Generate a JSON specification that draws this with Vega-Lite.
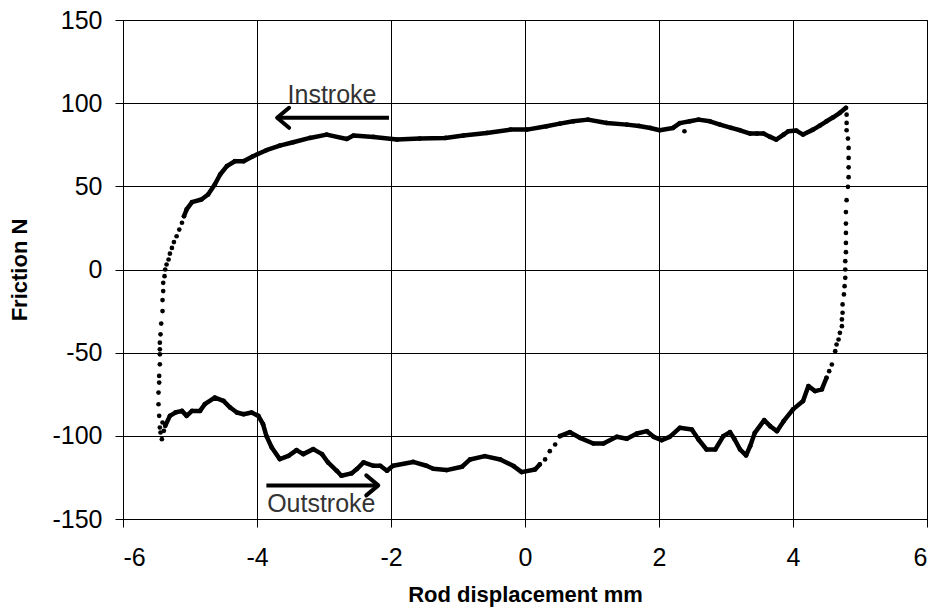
{
  "$schema": "https://vega.github.io/schema/vega-lite/v6.json",
  "width": 804,
  "height": 499,
  "autosize": {"type": "none"},
  "padding": {"left": 123, "top": 20, "right": 15, "bottom": 96},
  "background": "white",
  "config": {
    "view": {"stroke": "black", "strokeWidth": 1},
    "font": "Liberation Sans",
    "axis": {
      "domainColor": "black",
      "domainWidth": 1,
      "tickColor": "black",
      "tickWidth": 1,
      "tickSize": 8,
      "gridColor": "black",
      "gridWidth": 1,
      "gridOpacity": 1,
      "labelFont": "Liberation Sans",
      "labelFontSize": 25,
      "labelColor": "black",
      "titleFont": "Liberation Sans",
      "titleFontSize": 22,
      "titleFontWeight": "bold",
      "titleColor": "black"
    }
  },
  "datasets": {
    "loop": [
      {"i": 1, "x": 4.79, "y": 97.2, "s": "in"},
      {"i": 2, "x": 4.70, "y": 94.2, "s": "in"},
      {"i": 3, "x": 4.60, "y": 91.5, "s": "in"},
      {"i": 4, "x": 4.50, "y": 89.1, "s": "in"},
      {"i": 5, "x": 4.40, "y": 86.5, "s": "in"},
      {"i": 6, "x": 4.30, "y": 84.1, "s": "in"},
      {"i": 7, "x": 4.15, "y": 81.1, "s": "in"},
      {"i": 8, "x": 4.05, "y": 83.5, "s": "in"},
      {"i": 9, "x": 3.93, "y": 83.1, "s": "in"},
      {"i": 10, "x": 3.86, "y": 81.1, "s": "in"},
      {"i": 11, "x": 3.75, "y": 78.1, "s": "in"},
      {"i": 12, "x": 3.66, "y": 79.7, "s": "in"},
      {"i": 13, "x": 3.56, "y": 81.7, "s": "in"},
      {"i": 14, "x": 3.46, "y": 81.7, "s": "in"},
      {"i": 15, "x": 3.36, "y": 81.7, "s": "in"},
      {"i": 16, "x": 3.21, "y": 83.7, "s": "in"},
      {"i": 17, "x": 3.08, "y": 85.1, "s": "in"},
      {"i": 18, "x": 2.91, "y": 87.1, "s": "in"},
      {"i": 19, "x": 2.76, "y": 89.1, "s": "in"},
      {"i": 20, "x": 2.59, "y": 90.1, "s": "in"},
      {"i": 21, "x": 2.46, "y": 89.1, "s": "in"},
      {"i": 22, "x": 2.31, "y": 88.0, "s": "in"},
      {"i": 23, "x": 2.21, "y": 85.1, "s": "in"},
      {"i": 24, "x": 2.01, "y": 83.7, "s": "in"},
      {"i": 25, "x": 1.87, "y": 85.1, "s": "in"},
      {"i": 26, "x": 1.70, "y": 86.3, "s": "in"},
      {"i": 27, "x": 1.52, "y": 87.1, "s": "in"},
      {"i": 28, "x": 1.22, "y": 88.1, "s": "in"},
      {"i": 29, "x": 0.94, "y": 90.1, "s": "in"},
      {"i": 30, "x": 0.72, "y": 89.1, "s": "in"},
      {"i": 31, "x": 0.52, "y": 87.7, "s": "in"},
      {"i": 32, "x": 0.32, "y": 86.1, "s": "in"},
      {"i": 33, "x": 0.03, "y": 84.1, "s": "in"},
      {"i": 34, "x": -0.22, "y": 84.1, "s": "in"},
      {"i": 35, "x": -0.57, "y": 82.1, "s": "in"},
      {"i": 36, "x": -0.92, "y": 80.5, "s": "in"},
      {"i": 37, "x": -1.19, "y": 79.1, "s": "in"},
      {"i": 38, "x": -1.57, "y": 78.7, "s": "in"},
      {"i": 39, "x": -1.91, "y": 78.1, "s": "in"},
      {"i": 40, "x": -2.26, "y": 79.7, "s": "in"},
      {"i": 41, "x": -2.56, "y": 80.5, "s": "in"},
      {"i": 42, "x": -2.66, "y": 78.5, "s": "in"},
      {"i": 43, "x": -2.96, "y": 81.1, "s": "in"},
      {"i": 44, "x": -3.21, "y": 79.1, "s": "in"},
      {"i": 45, "x": -3.46, "y": 76.5, "s": "in"},
      {"i": 46, "x": -3.66, "y": 74.5, "s": "in"},
      {"i": 47, "x": -3.86, "y": 71.7, "s": "in"},
      {"i": 48, "x": -4.06, "y": 68.1, "s": "in"},
      {"i": 49, "x": -4.20, "y": 65.1, "s": "in"},
      {"i": 50, "x": -4.33, "y": 65.1, "s": "in"},
      {"i": 51, "x": -4.45, "y": 62.1, "s": "in"},
      {"i": 52, "x": -4.55, "y": 57.1, "s": "in"},
      {"i": 53, "x": -4.63, "y": 51.1, "s": "in"},
      {"i": 54, "x": -4.73, "y": 45.1, "s": "in"},
      {"i": 55, "x": -4.83, "y": 42.1, "s": "in"},
      {"i": 56, "x": -4.97, "y": 40.5, "s": "in"},
      {"i": 57, "x": -5.05, "y": 36.1, "s": "in"},
      {"i": 58, "x": -5.09, "y": 32.0, "s": "in"},
      {"i": 59, "x": 2.38, "y": 83.1, "s": "dot"},
      {"i": 60, "x": -5.12, "y": 28.1, "s": "dot"},
      {"i": 61, "x": -5.16, "y": 24.0, "s": "dot"},
      {"i": 62, "x": -5.20, "y": 20.0, "s": "dot"},
      {"i": 63, "x": -5.24, "y": 16.5, "s": "dot"},
      {"i": 64, "x": -5.27, "y": 13.0, "s": "dot"},
      {"i": 65, "x": -5.30, "y": 9.5, "s": "dot"},
      {"i": 66, "x": -5.32, "y": 6.0, "s": "dot"},
      {"i": 67, "x": -5.35, "y": 3.0, "s": "dot"},
      {"i": 68, "x": -5.37, "y": 0.0, "s": "dot"},
      {"i": 69, "x": -5.38, "y": -4.0, "s": "dot"},
      {"i": 70, "x": -5.40, "y": -8.0, "s": "dot"},
      {"i": 71, "x": -5.40, "y": -13.0, "s": "dot"},
      {"i": 72, "x": -5.41, "y": -18.4, "s": "dot"},
      {"i": 73, "x": -5.41, "y": -25.0, "s": "dot"},
      {"i": 74, "x": -5.43, "y": -32.5, "s": "dot"},
      {"i": 75, "x": -5.44, "y": -39.0, "s": "dot"},
      {"i": 76, "x": -5.45, "y": -44.0, "s": "dot"},
      {"i": 77, "x": -5.45, "y": -48.0, "s": "dot"},
      {"i": 78, "x": -5.45, "y": -51.0, "s": "dot"},
      {"i": 79, "x": -5.45, "y": -57.0, "s": "dot"},
      {"i": 80, "x": -5.46, "y": -64.0, "s": "dot"},
      {"i": 81, "x": -5.46, "y": -68.0, "s": "dot"},
      {"i": 82, "x": -5.47, "y": -74.0, "s": "dot"},
      {"i": 83, "x": -5.47, "y": -81.0, "s": "dot"},
      {"i": 84, "x": -5.46, "y": -88.0, "s": "dot"},
      {"i": 85, "x": -5.45, "y": -95.0, "s": "dot"},
      {"i": 86, "x": -5.42, "y": -102.0, "s": "dot"},
      {"i": 87, "x": -5.44, "y": -98.0, "s": "dot"},
      {"i": 88, "x": -5.41, "y": -92.0, "s": "dot"},
      {"i": 89, "x": -5.39, "y": -97.0, "s": "dot"},
      {"i": 90, "x": -5.37, "y": -94.0, "s": "out1"},
      {"i": 91, "x": -5.30, "y": -88.0, "s": "out1"},
      {"i": 92, "x": -5.22, "y": -86.0, "s": "out1"},
      {"i": 93, "x": -5.12, "y": -85.0, "s": "out1"},
      {"i": 94, "x": -5.05, "y": -88.0, "s": "out1"},
      {"i": 95, "x": -4.97, "y": -85.0, "s": "out1"},
      {"i": 96, "x": -4.85, "y": -85.0, "s": "out1"},
      {"i": 97, "x": -4.78, "y": -81.0, "s": "out1"},
      {"i": 98, "x": -4.63, "y": -77.0, "s": "out1"},
      {"i": 99, "x": -4.50, "y": -79.0, "s": "out1"},
      {"i": 100, "x": -4.40, "y": -83.0, "s": "out1"},
      {"i": 101, "x": -4.30, "y": -86.0, "s": "out1"},
      {"i": 102, "x": -4.20, "y": -87.0, "s": "out1"},
      {"i": 103, "x": -4.08, "y": -86.0, "s": "out1"},
      {"i": 104, "x": -3.98, "y": -88.0, "s": "out1"},
      {"i": 105, "x": -3.91, "y": -93.0, "s": "out1"},
      {"i": 106, "x": -3.86, "y": -100.0, "s": "out1"},
      {"i": 107, "x": -3.78, "y": -107.0, "s": "out1"},
      {"i": 108, "x": -3.66, "y": -114.0, "s": "out1"},
      {"i": 109, "x": -3.53, "y": -112.0, "s": "out1"},
      {"i": 110, "x": -3.41, "y": -108.6, "s": "out1"},
      {"i": 111, "x": -3.31, "y": -111.0, "s": "out1"},
      {"i": 112, "x": -3.16, "y": -108.0, "s": "out1"},
      {"i": 113, "x": -3.03, "y": -111.0, "s": "out1"},
      {"i": 114, "x": -2.94, "y": -116.0, "s": "out1"},
      {"i": 115, "x": -2.81, "y": -121.0, "s": "out1"},
      {"i": 116, "x": -2.74, "y": -124.0, "s": "out1"},
      {"i": 117, "x": -2.59, "y": -122.6, "s": "out1"},
      {"i": 118, "x": -2.51, "y": -120.0, "s": "out1"},
      {"i": 119, "x": -2.41, "y": -116.0, "s": "out1"},
      {"i": 120, "x": -2.26, "y": -118.0, "s": "out1"},
      {"i": 121, "x": -2.16, "y": -118.0, "s": "out1"},
      {"i": 122, "x": -2.06, "y": -121.0, "s": "out1"},
      {"i": 123, "x": -1.97, "y": -118.0, "s": "out1"},
      {"i": 124, "x": -1.67, "y": -115.7, "s": "out1"},
      {"i": 125, "x": -1.47, "y": -118.0, "s": "out1"},
      {"i": 126, "x": -1.37, "y": -119.8, "s": "out1"},
      {"i": 127, "x": -1.17, "y": -120.6, "s": "out1"},
      {"i": 128, "x": -0.94, "y": -118.6, "s": "out1"},
      {"i": 129, "x": -0.82, "y": -114.2, "s": "out1"},
      {"i": 130, "x": -0.60, "y": -112.2, "s": "out1"},
      {"i": 131, "x": -0.37, "y": -114.2, "s": "out1"},
      {"i": 132, "x": -0.17, "y": -118.2, "s": "out1"},
      {"i": 133, "x": -0.05, "y": -121.8, "s": "out1"},
      {"i": 134, "x": 0.15, "y": -120.2, "s": "out1"},
      {"i": 135, "x": 0.22, "y": -117.2, "s": "out1"},
      {"i": 136, "x": 0.30, "y": -114.2, "s": "dot"},
      {"i": 137, "x": 0.37, "y": -109.2, "s": "dot"},
      {"i": 138, "x": 0.45, "y": -105.2, "s": "dot"},
      {"i": 139, "x": 0.52, "y": -100.2, "s": "out2"},
      {"i": 140, "x": 0.67, "y": -97.8, "s": "out2"},
      {"i": 141, "x": 0.82, "y": -101.2, "s": "out2"},
      {"i": 142, "x": 1.02, "y": -104.6, "s": "out2"},
      {"i": 143, "x": 1.17, "y": -104.6, "s": "out2"},
      {"i": 144, "x": 1.37, "y": -100.6, "s": "out2"},
      {"i": 145, "x": 1.52, "y": -101.8, "s": "out2"},
      {"i": 146, "x": 1.67, "y": -98.6, "s": "out2"},
      {"i": 147, "x": 1.82, "y": -97.2, "s": "out2"},
      {"i": 148, "x": 1.92, "y": -100.6, "s": "out2"},
      {"i": 149, "x": 2.04, "y": -102.6, "s": "out2"},
      {"i": 150, "x": 2.16, "y": -100.6, "s": "out2"},
      {"i": 151, "x": 2.31, "y": -95.2, "s": "out2"},
      {"i": 152, "x": 2.49, "y": -96.2, "s": "out2"},
      {"i": 153, "x": 2.59, "y": -102.2, "s": "out2"},
      {"i": 154, "x": 2.71, "y": -108.2, "s": "out2"},
      {"i": 155, "x": 2.84, "y": -108.2, "s": "out2"},
      {"i": 156, "x": 2.96, "y": -100.2, "s": "out2"},
      {"i": 157, "x": 3.06, "y": -97.8, "s": "out2"},
      {"i": 158, "x": 3.13, "y": -102.2, "s": "out2"},
      {"i": 159, "x": 3.21, "y": -108.2, "s": "out2"},
      {"i": 160, "x": 3.30, "y": -111.8, "s": "out2"},
      {"i": 161, "x": 3.36, "y": -106.2, "s": "out2"},
      {"i": 162, "x": 3.43, "y": -98.2, "s": "out2"},
      {"i": 163, "x": 3.57, "y": -90.6, "s": "out2"},
      {"i": 164, "x": 3.66, "y": -94.2, "s": "out2"},
      {"i": 165, "x": 3.76, "y": -97.2, "s": "out2"},
      {"i": 166, "x": 3.86, "y": -91.2, "s": "out2"},
      {"i": 167, "x": 4.00, "y": -84.1, "s": "out2"},
      {"i": 168, "x": 4.15, "y": -79.1, "s": "out2"},
      {"i": 169, "x": 4.23, "y": -70.1, "s": "out2"},
      {"i": 170, "x": 4.33, "y": -73.1, "s": "out2"},
      {"i": 171, "x": 4.43, "y": -72.1, "s": "out2"},
      {"i": 172, "x": 4.50, "y": -65.1, "s": "out2"},
      {"i": 173, "x": 4.54, "y": -61.1, "s": "dot"},
      {"i": 174, "x": 4.58, "y": -57.1, "s": "dot"},
      {"i": 175, "x": 4.63, "y": -49.1, "s": "dot"},
      {"i": 176, "x": 4.65, "y": -45.1, "s": "dot"},
      {"i": 177, "x": 4.68, "y": -42.1, "s": "dot"},
      {"i": 178, "x": 4.70, "y": -38.1, "s": "dot"},
      {"i": 179, "x": 4.73, "y": -34.1, "s": "dot"},
      {"i": 180, "x": 4.73, "y": -30.0, "s": "dot"},
      {"i": 181, "x": 4.74, "y": -26.0, "s": "dot"},
      {"i": 182, "x": 4.74, "y": -21.0, "s": "dot"},
      {"i": 183, "x": 4.76, "y": -15.0, "s": "dot"},
      {"i": 184, "x": 4.77, "y": -10.0, "s": "dot"},
      {"i": 185, "x": 4.78, "y": -5.0, "s": "dot"},
      {"i": 186, "x": 4.78, "y": 0.0, "s": "dot"},
      {"i": 187, "x": 4.78, "y": 5.0, "s": "dot"},
      {"i": 188, "x": 4.79, "y": 10.4, "s": "dot"},
      {"i": 189, "x": 4.79, "y": 16.0, "s": "dot"},
      {"i": 190, "x": 4.79, "y": 22.0, "s": "dot"},
      {"i": 191, "x": 4.79, "y": 27.6, "s": "dot"},
      {"i": 192, "x": 4.79, "y": 34.5, "s": "dot"},
      {"i": 193, "x": 4.80, "y": 41.7, "s": "dot"},
      {"i": 194, "x": 4.82, "y": 49.7, "s": "dot"},
      {"i": 195, "x": 4.83, "y": 55.5, "s": "dot"},
      {"i": 196, "x": 4.83, "y": 61.4, "s": "dot"},
      {"i": 197, "x": 4.83, "y": 67.1, "s": "dot"},
      {"i": 198, "x": 4.83, "y": 73.1, "s": "dot"},
      {"i": 199, "x": 4.82, "y": 78.7, "s": "dot"},
      {"i": 200, "x": 4.80, "y": 83.7, "s": "dot"},
      {"i": 201, "x": 4.80, "y": 88.1, "s": "dot"},
      {"i": 202, "x": 4.80, "y": 93.1, "s": "dot"}
    ],
    "arrows": [
      {"from": -2.03, "to": -3.70, "y": 91.2, "dir": "left"},
      {"from": -3.86, "to": -2.19, "y": -129.8, "dir": "right"}
    ],
    "notes": [
      {"label": "Instroke", "x": -2.88, "y": 100.4},
      {"label": "Outstroke", "x": -3.04, "y": -146.0}
    ]
  },
  "layer": [
    {
      "data": {"name": "loop"},
      "transform": [{"filter": "datum.s !== 'dot'"}],
      "mark": {"type": "line", "color": "black", "strokeWidth": 4.5, "strokeJoin": "round", "strokeCap": "round"},
      "encoding": {
        "x": {
          "field": "x", "type": "quantitative",
          "scale": {"domain": [-6, 6], "nice": false, "zero": false},
          "axis": {
            "values": [-6, -4, -2, 0, 2, 4, 6],
            "labelExpr": "'' + datum.value",
            "labelPadding": 18,
            "title": "Rod displacement mm",
            "titlePadding": 14
          }
        },
        "y": {
          "field": "y", "type": "quantitative",
          "scale": {"domain": [-150, 150], "nice": false, "zero": false},
          "axis": {
            "values": [-150, -100, -50, 0, 50, 100, 150],
            "labelExpr": "'' + datum.value",
            "labelPadding": 13,
            "title": "Friction N",
            "titlePadding": 20
          }
        },
        "order": {"field": "i", "type": "quantitative"},
        "detail": {"field": "s", "type": "nominal"}
      }
    },
    {
      "data": {"name": "loop"},
      "mark": {"type": "point", "filled": true, "color": "black", "size": 22, "opacity": 1},
      "encoding": {
        "x": {"field": "x", "type": "quantitative"},
        "y": {"field": "y", "type": "quantitative"}
      }
    },
    {
      "data": {"name": "arrows"},
      "mark": {"type": "rule", "color": "black", "strokeWidth": 4},
      "encoding": {
        "x": {"field": "from", "type": "quantitative"},
        "x2": {"field": "to"},
        "y": {"field": "y", "type": "quantitative"}
      }
    },
    {
      "data": {"name": "arrows"},
      "mark": {"type": "point", "filled": false, "color": "black", "strokeWidth": 4, "size": 400, "opacity": 1, "strokeCap": "round", "strokeJoin": "round"},
      "encoding": {
        "x": {"field": "to", "type": "quantitative"},
        "y": {"field": "y", "type": "quantitative"},
        "shape": {
          "field": "dir", "type": "nominal", "legend": null,
          "scale": {"domain": ["left", "right"], "range": ["M 1.2 -1 L 0 0 L 1.2 1", "M -1.2 -1 L 0 0 L -1.2 1"]}
        }
      }
    },
    {
      "data": {"name": "notes"},
      "mark": {"type": "text", "font": "Liberation Sans", "fontSize": 25, "color": "#333333", "align": "center", "baseline": "alphabetic"},
      "encoding": {
        "x": {"field": "x", "type": "quantitative"},
        "y": {"field": "y", "type": "quantitative"},
        "text": {"field": "label"}
      }
    }
  ]
}
